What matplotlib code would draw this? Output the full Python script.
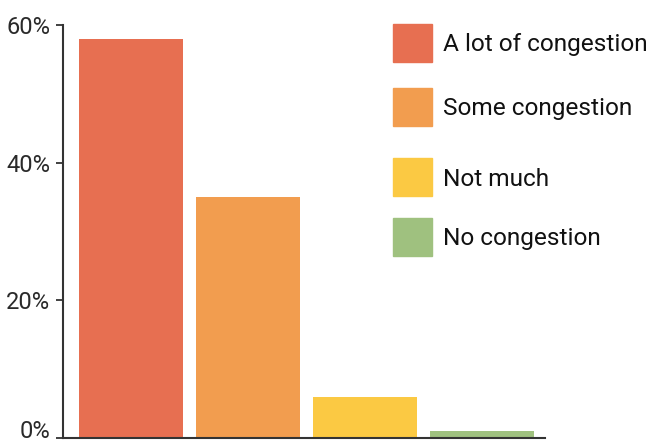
import matplotlib
matplotlib.use('Agg')
import matplotlib.pyplot as plt
from matplotlib.patches import Rectangle
import numpy as np

matplotlib.rc('font', family=['Roboto', 'DejaVu Sans'])

categories = ['A lot of congestion', 'Some congestion', 'Not much', 'No congestion']
shares = [58, 35, 6, 1]
colors = ['#E76F51', '#F29D4F', '#FBC943', '#9FC17F']
yticks = [0, 20, 40, 60]

fig = plt.figure(figsize=(6.5, 4.42), dpi=100)
ax = fig.add_axes([63 / 650, 4 / 442, (545 - 63) / 650, 413 / 442])

x = np.arange(len(categories))
ax.bar(x, shares, width=0.89, color=colors)

ax.set_xlim(-0.58, 3.54)
ax.set_ylim(0, 60)
ax.set_yticks(yticks)
ax.set_yticklabels(['%d%%' % v for v in yticks], fontsize=17, color='#2a2a2a')
# bottom label sits on the baseline so it stays inside the canvas
ax.get_yticklabels()[0].set_verticalalignment('baseline')
ax.set_xticks([])
ax.tick_params(axis='y', length=5, width=1.3, color='#333333', pad=4)
for s in ['top', 'right']:
    ax.spines[s].set_visible(False)
for s in ['left', 'bottom']:
    ax.spines[s].set_color('#333333')
    ax.spines[s].set_linewidth(1.5)

# legend, placed by hand (uneven spacing as in the original)
leg_y = [43, 107, 177, 237]
for name, c, yc in zip(categories, colors, leg_y):
    fig.add_artist(Rectangle((393 / 650, 1 - (yc + 19) / 442), 39 / 650, 38 / 442,
                             transform=fig.transFigure, color=c))
    fig.text(443 / 650, 1 - (yc + 2) / 442, name, fontsize=17.6, va='center', ha='left',
             color='#111111')

plt.savefig('out.png', dpi=100)
